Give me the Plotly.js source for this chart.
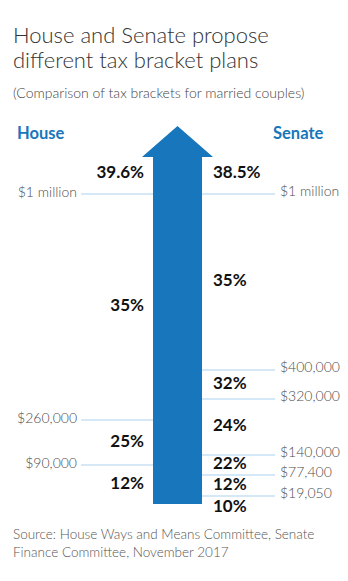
<!DOCTYPE html>
<html>
<head>
<meta charset="utf-8">
<script src="https://cdn.plot.ly/plotly-3.0.1.min.js"></script>
<style>html,body{margin:0;padding:0;background:#fff;}#chart{width:348px;height:581px;}</style>
</head>
<body>
<div id="chart"></div>
<script>
// ---- data ----
const houseRates = ['12%', '25%', '35%', '39.6%'];
const houseThresholds = ['$90,000', '$260,000', '$1 million'];
const senateRates = ['10%', '12%', '22%', '24%', '32%', '35%', '38.5%'];
const senateThresholds = ['$19,050', '$77,400', '$140,000', '$320,000', '$400,000', '$1 million'];
// schematic (not-to-scale) vertical level of each threshold on the arrow
const houseLevels = [39, 84, 310];
const senateLevels = [8, 29, 49, 105, 134, 310];
const arrowTopLevel = 347;
const arrowTipLevel = 378;

// ---- layout constants ----
const FONT = 'Lato, "Open Sans", sans-serif';
const BLUE = '#1776bc';
const W = 348, H = 581;
const yBottomPx = 504; // pixel row of level 0
const yr = [yBottomPx - H, yBottomPx];
const paperY = p => 1 - p / H;

const bodyL = 153, bodyR = 202, headL = 142, headR = 213, tipX = 177.5;

function labelLevels(levels, floor, topOffset) {
  const out = [];
  for (let i = 0; i <= levels.length; i++) {
    if (i === levels.length) out.push(levels[i - 1] + topOffset);
    else {
      const lo = i === 0 ? floor : levels[i - 1];
      out.push((lo + levels[i]) / 2);
    }
  }
  return out;
}
const houseLabelY = labelLevels(houseLevels, 0, 20);
const senateLabelY = labelLevels(senateLevels, -16, 20);

const traces = [];
// threshold lines
houseLevels.forEach((lv, i) => {
  const top = i === houseLevels.length - 1;
  traces.push({
    x: [81, bodyL], y: [lv, lv], mode: 'lines', hoverinfo: 'skip', showlegend: false,
    line: {color: top ? '#a9d1ef' : '#d6e8f5', width: top ? 1 : 2}
  });
});
senateLevels.forEach(lv => {
  traces.push({
    x: [bodyR, 275], y: [lv, lv], mode: 'lines', hoverinfo: 'skip', showlegend: false,
    line: {color: '#a9d1ef', width: 1}
  });
});
// threshold labels
traces.push({
  x: houseLevels.map(() => 77), y: houseLevels.map(v => v + 1), text: houseThresholds, mode: 'text',
  textposition: 'middle left', showlegend: false, hoverinfo: 'skip',
  textfont: {family: FONT, size: 14, color: '#4d4d4d', weight: 300}
});
traces.push({
  x: senateLevels.map(() => 280), y: senateLevels.map(v => v + 1.5), text: senateThresholds, mode: 'text',
  textposition: 'middle right', showlegend: false, hoverinfo: 'skip',
  textfont: {family: FONT, size: 14, color: '#4d4d4d', weight: 300}
});
// rate labels
traces.push({
  x: houseRates.map(() => 144), y: houseLabelY, text: houseRates, mode: 'text',
  textposition: 'middle left', showlegend: false, hoverinfo: 'skip',
  textfont: {family: FONT, size: 17, color: '#111', weight: 700}
});
traces.push({
  x: senateRates.map(() => 213), y: senateLabelY, text: senateRates, mode: 'text',
  textposition: 'middle right', showlegend: false, hoverinfo: 'skip',
  textfont: {family: FONT, size: 17, color: '#111', weight: 700}
});

const layout = {
  width: W, height: H,
  margin: {l: 0, r: 0, t: 0, b: 0},
  paper_bgcolor: '#fff', plot_bgcolor: '#fff',
  xaxis: {range: [0, W], visible: false, fixedrange: true},
  yaxis: {range: yr, visible: false, fixedrange: true},
  shapes: [{
    type: 'path', xref: 'x', yref: 'y',
    path: `M ${bodyL} 0 L ${bodyR} 0 L ${bodyR} ${arrowTopLevel} L ${headR} ${arrowTopLevel} L ${tipX} ${arrowTipLevel} L ${headL} ${arrowTopLevel} L ${bodyL} ${arrowTopLevel} Z`,
    fillcolor: BLUE, line: {width: 0}, layer: 'below'
  }],
  annotations: [
    {text: 'House and Senate propose', xref: 'paper', yref: 'paper',
     x: 11 / W, y: paperY(34), xanchor: 'left', yanchor: 'middle', showarrow: false,
     font: {family: FONT, size: 22, color: '#333', weight: 300}},
    {text: 'different tax bracket plans', xref: 'paper', yref: 'paper',
     x: 11 / W, y: paperY(60), xanchor: 'left', yanchor: 'middle', showarrow: false,
     font: {family: FONT, size: 22, color: '#333', weight: 300}},
    {text: '(Comparison of tax brackets for married couples)', xref: 'paper', yref: 'paper',
     x: 11 / W, y: paperY(92), xanchor: 'left', yanchor: 'middle', showarrow: false,
     font: {family: FONT, size: 14, color: '#444', weight: 300}},
    {text: 'House', xref: 'paper', yref: 'paper', x: 15 / W, y: paperY(133), xanchor: 'left', yanchor: 'middle',
     showarrow: false, font: {family: FONT, size: 16.5, color: BLUE, weight: 700}},
    {text: 'Senate', xref: 'paper', yref: 'paper', x: 325 / W, y: paperY(133), xanchor: 'right', yanchor: 'middle',
     showarrow: false, font: {family: FONT, size: 16.5, color: BLUE, weight: 700}},
    {text: 'Source: House Ways and Means Committee, Senate<br>Finance Committee, November 2017', xref: 'paper', yref: 'paper',
     x: 11 / W, y: paperY(524), xanchor: 'left', yanchor: 'top', align: 'left', showarrow: false,
     font: {family: FONT, size: 13.5, color: '#555', weight: 300}}
  ]
};

Plotly.newPlot('chart', traces, layout, {staticPlot: true, displayModeBar: false});
</script>
</body>
</html>
